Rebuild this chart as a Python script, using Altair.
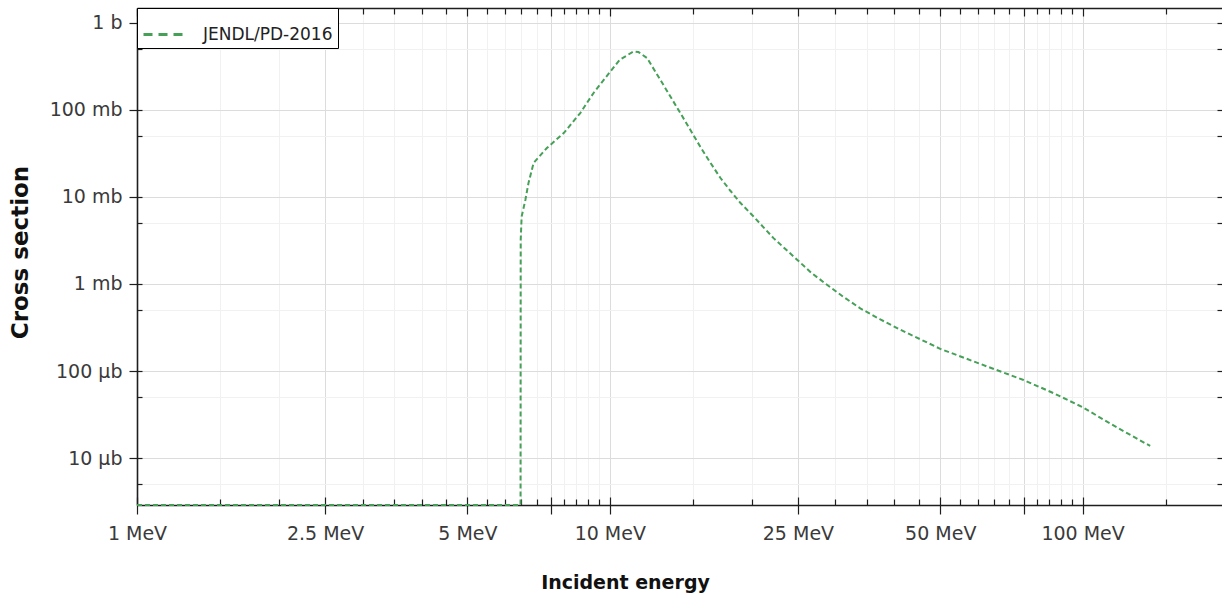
import altair as alt
import pandas as pd

series_name = "JENDL/PD-2016"

# Incident energy (MeV) and cross section (barn)
energy_mev = [1.0, 6.475, 6.48, 6.51, 6.63, 6.73, 6.90, 7.36, 7.99, 8.66, 9.24,
              10.03, 10.5, 11.23, 11.5, 11.99, 12.79, 14.1, 14.8, 15.54, 16.32,
              17.13, 17.99, 18.88, 20.14, 22.2, 24.9, 26.68, 28.8, 31.18, 33.87,
              37.34, 41.2, 45.4, 50.0, 62.8, 75.0, 86.8, 100.0, 112.6, 124.2, 139.0]
xs_barn = [2.9e-6, 2.9e-6, 3.2e-3, 5.96e-3, 9.27e-3, 0.0144, 0.0245, 0.0364, 0.054,
           0.0918, 0.156, 0.276, 0.376, 0.468, 0.46, 0.393, 0.221, 0.0918, 0.059,
           0.0376, 0.0247, 0.01658, 0.01176, 8.56e-3, 5.95e-3, 3.36e-3, 1.9e-3,
           1.344e-3, 9.8e-4, 7.13e-4, 5.25e-4, 3.92e-4, 2.98e-4, 2.315e-4, 1.8e-4,
           1.13e-4, 7.9e-5, 5.58e-5, 3.85e-5, 2.63e-5, 1.94e-5, 1.38e-5]

x_label_values = [1, 2.5, 5, 10, 25, 50, 100]
x_label_texts = ["1 MeV", "2.5 MeV", "5 MeV", "10 MeV", "25 MeV", "50 MeV", "100 MeV"]
x_unlabelled_major = [7.5, 75]
x_minor = [1.5, 2, 3, 3.5, 4, 4.5, 5.5, 6, 6.5, 7, 8, 8.5, 9, 9.5, 15, 20,
           30, 35, 40, 45, 55, 60, 65, 70, 80, 85, 90, 95, 150]

y_label_values = [1, 0.1, 0.01, 0.001, 0.0001, 0.00001]
y_label_texts = ["1 b", "100 mb", "10 mb", "1 mb", "100 µb", "10 µb"]
y_minor = [0.5, 0.05, 0.005, 0.0005, 0.00005, 0.000005]

x_domain = [1, 197.2]
y_domain = [2.9e-6, 1.475]

W, H = 1085, 497
LINE = "#46a058"
FRAME = "#1e1e1e"
GRID_MAJOR = "#dcdcdc"
GRID_MINOR = "#f1f1f1"
FONT = "DejaVu Sans"

df = pd.DataFrame({"energy": energy_mev, "xs": xs_barn, "series": series_name})


def label_expr(values, texts):
    expr = "''"
    for v, t in zip(values, texts):
        expr = f"datum.value == {v!r} ? '{t}' : ({expr})"
    return expr


def in_list(values):
    return "indexof([" + ",".join(repr(v) for v in values) + "], datum.value) >= 0"


x_major_all = sorted(x_label_values + x_unlabelled_major)
x_all = sorted(x_major_all + x_minor)
y_all = sorted(y_label_values + y_minor)

xscale = alt.Scale(type="log", domain=x_domain, nice=False)
yscale = alt.Scale(type="log", domain=y_domain, nice=False)

# bottom axis: labels + outward major ticks
ax_x1 = alt.Axis(orient="bottom", values=x_major_all,
                 labelExpr=label_expr(x_label_values, x_label_texts),
                 tickSize=9, tickColor=FRAME, tickWidth=1.2,
                 domainColor=FRAME, domainWidth=1.6, grid=False,
                 labelFont=FONT, labelFontSize=19, labelColor="#3a3a3a",
                 labelPadding=10, labelFlush=False, labelOverlap=False,
                 title="Incident energy", titleFont=FONT, titleFontSize=19,
                 titleFontWeight="bold", titleColor="#111111",
                 titleX=488, titleY=83, titleAlign="center",
                 titleBaseline="alphabetic")
# inward ticks along bottom edge + vertical grid
ax_x2 = alt.Axis(orient="top", offset=-H, values=x_all, labels=False,
                 domain=False, title=None, tickColor=FRAME, tickWidth=1.2,
                 tickSize={"condition": {"test": in_list(x_major_all), "value": 8}, "value": 6},
                 grid=True, gridWidth=1,
                 gridColor={"condition": {"test": in_list(x_major_all), "value": GRID_MAJOR},
                            "value": GRID_MINOR})
# inward ticks along top edge + top frame
ax_x3 = alt.Axis(orient="bottom", offset=-H, values=x_all, labels=False,
                 domain=True, domainColor=FRAME, domainWidth=1.6, title=None,
                 tickColor=FRAME, tickWidth=1.2, grid=False,
                 tickSize={"condition": {"test": in_list(x_major_all), "value": 8}, "value": 6})

ax_y1 = alt.Axis(orient="left", values=y_label_values,
                 labelExpr=label_expr(y_label_values, y_label_texts),
                 tickSize=8, tickColor=FRAME, tickWidth=1.2,
                 domainColor=FRAME, domainWidth=1.6, grid=False,
                 labelFont=FONT, labelFontSize=19, labelColor="#3a3a3a",
                 labelPadding=7, labelFlush=False, labelOverlap=False,
                 title="Cross section", titleFont=FONT, titleFontSize=23,
                 titleFontWeight="bold", titleColor="#111111", titleAngle=270,
                 titleX=-117, titleY=244, titleAlign="center",
                 titleBaseline="middle")
ax_y2 = alt.Axis(orient="right", offset=-W, values=y_all, labels=False,
                 domain=False, title=None, tickColor=FRAME, tickWidth=1.2,
                 tickSize=5, grid=True, gridWidth=1,
                 gridColor={"condition": {"test": in_list(y_label_values), "value": GRID_MAJOR},
                            "value": GRID_MINOR})
ax_y3 = alt.Axis(orient="left", offset=-W, values=y_all, labels=False,
                 domain=False, title=None, tickColor=FRAME, tickWidth=1.2,
                 tickSize=5, grid=False)

base = alt.Chart(df)

layer_grid = base.mark_line(opacity=0).encode(
    x=alt.X("energy:Q", scale=xscale, axis=ax_x2),
    y=alt.Y("xs:Q", scale=yscale, axis=ax_y2),
)
layer_frame = base.mark_line(opacity=0).encode(
    x=alt.X("energy:Q", scale=xscale, axis=ax_x3),
    y=alt.Y("xs:Q", scale=yscale, axis=ax_y3),
)
layer_line = base.mark_line(strokeWidth=2, strokeDash=[5, 3]).encode(
    x=alt.X("energy:Q", scale=xscale, axis=ax_x1),
    y=alt.Y("xs:Q", scale=yscale, axis=ax_y1),
    color=alt.Color("series:N",
                    scale=alt.Scale(domain=[series_name], range=[LINE]),
                    legend=alt.Legend(title=None, orient="none", legendX=0, legendY=0,
                                      symbolType="stroke", symbolSize=1600,
                                      symbolStrokeWidth=3, symbolDash=[9, 6],
                                      labelFont=FONT, labelFontSize=17,
                                      labelColor="#222222", labelOffset=18,
                                      padding=5, fillColor="white",
                                      strokeColor="black", cornerRadius=0)),
)

chart = alt.layer(layer_grid, layer_frame, layer_line).resolve_axis(
    x="independent", y="independent"
).properties(
    width=W, height=H,
    padding={"left": 137, "top": 8, "right": 0, "bottom": 96},
    autosize=alt.AutoSizeParams(type="none"),
).configure(font=FONT).configure_view(strokeWidth=0)

chart.save("out.html", embed_options={"renderer": "svg", "actions": False})
